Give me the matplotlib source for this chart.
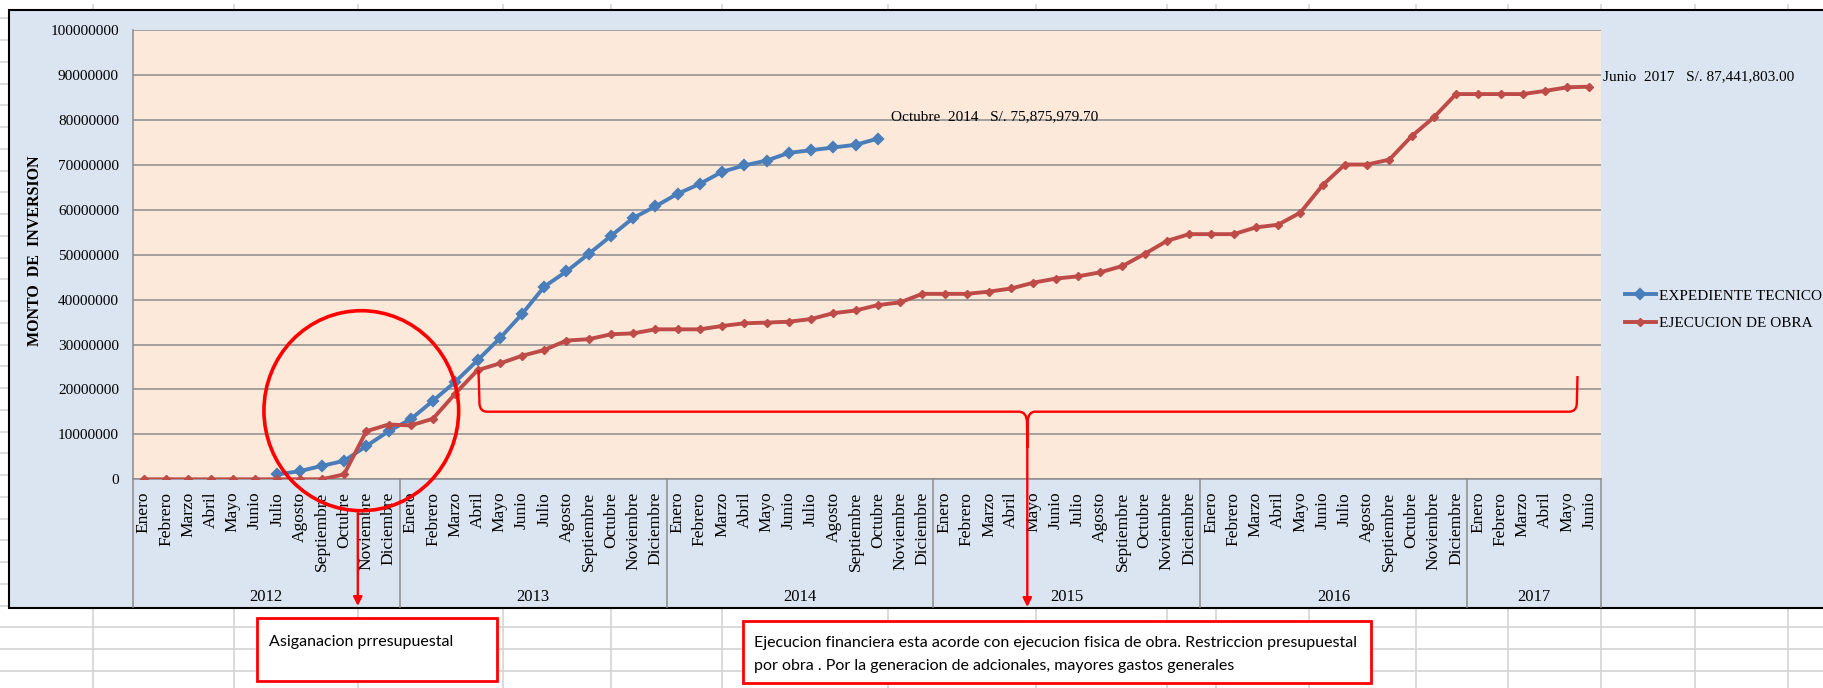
import numpy as np
import matplotlib
matplotlib.use('Agg')
import matplotlib.pyplot as plt
from matplotlib.lines import Line2D
from matplotlib.patches import Rectangle, Ellipse, PathPatch, FancyArrowPatch
from matplotlib.path import Path
from matplotlib.transforms import blended_transform_factory

meses = ['Enero', 'Febrero', 'Marzo', 'Abril', 'Mayo', 'Junio', 'Julio',
         'Agosto', 'Septiembre', 'Octubre', 'Noviembre', 'Diciembre']
anios = ['2012', '2013', '2014', '2015', '2016', '2017']
meses_por_anio = [12, 12, 12, 12, 12, 6]

# EXPEDIENTE TECNICO: julio 2012 - octubre 2014
inicio_expediente = 6
expediente_tecnico = [
    1100000, 1800000, 3000000, 4100000, 7400000, 10700000,
    13400000, 17500000, 21700000, 26500000, 31400000, 36800000,
    42900000, 46300000, 50200000, 54200000, 58200000, 60800000,
    63600000, 65800000, 68500000, 69900000, 71000000, 72700000,
    73300000, 73900000, 74500000, 75875979.70,
]

# EJECUCION DE OBRA: enero 2012 - junio 2017
ejecucion_obra = [
    0, 0, 0, 0, 0, 0, 0, 0, 0, 1100000, 10700000, 12200000,
    12000000, 13500000, 19100000, 24300000, 25800000, 27500000,
    28800000, 30900000, 31200000, 32300000, 32500000, 33400000,
    33400000, 33400000, 34150000, 34750000, 34900000, 35100000,
    35700000, 37000000, 37600000, 38800000, 39400000, 41300000,
    41300000, 41300000, 41800000, 42500000, 43800000, 44700000,
    45200000, 46100000, 47500000, 50200000, 53100000, 54600000,
    54600000, 54600000, 56100000, 56700000, 59400000, 65500000,
    70100000, 70100000, 71200000, 76400000, 80600000, 85800000,
    85800000, 85800000, 85800000, 86500000, 87300000, 87441803.00,
]

W, H = 1823, 688
SERIF = 'Liberation Serif'
SANS = ['Liberation Sans Narrow', 'Lato', 'DejaVu Sans']
AZUL = '#4A7EBB'
ROJO = '#BE4B48'


def fx(x):
    return x / W


def fy(y):
    return 1 - y / H


etiquetas_x = []
for n in meses_por_anio:
    etiquetas_x.extend(meses[:n])
x = np.arange(len(etiquetas_x))

serie_expediente = np.full(len(x), np.nan)
serie_expediente[inicio_expediente:inicio_expediente + len(expediente_tecnico)] = expediente_tecnico
serie_obra = np.array(ejecucion_obra, dtype=float)

fig = plt.figure(figsize=(W / 100, H / 100), dpi=100, facecolor='white')

# cuadricula de la hoja de calculo
columnas = [93, 234, 358, 503, 611, 722, 888, 1036, 1167, 1216, 1309,
            1416, 1508, 1601, 1695, 1788]
for cx in columnas:
    fig.add_artist(Line2D([fx(cx), fx(cx)], [fy(5), fy(H)],
                          transform=fig.transFigure, color='#D4D4D4',
                          lw=1.2, zorder=-3))
for k in range(-3, 30):
    ry = 627.3 - 21.75 * k
    if ry < 12 or ry > H:
        continue
    fig.add_artist(Line2D([0, 1], [fy(ry), fy(ry)],
                          transform=fig.transFigure, color='#D4D4D4',
                          lw=1.2, zorder=-3))

# marco del grafico
fig.add_artist(Rectangle((fx(9), fy(608)), fx(1840) - fx(9), fy(10) - fy(608),
                         transform=fig.transFigure, facecolor='#DBE5F1',
                         edgecolor='black', lw=1.5, zorder=-2))

ax_left, ax_right, ax_top, ax_bottom = 132.8, 1600.6, 30.3, 479.3
ax = fig.add_axes([fx(ax_left), fy(ax_bottom),
                   (ax_right - ax_left) / W, (ax_bottom - ax_top) / H])
ax.set_facecolor('#FCE9DA')

ax.plot(x, serie_expediente, color=AZUL, lw=2.8, marker='D', ms=5,
        mew=1.6, mec=AZUL, mfc=AZUL, label='EXPEDIENTE TECNICO', zorder=3)
ax.plot(x, serie_obra, color=ROJO, lw=2.8, marker='D', ms=4,
        mew=1, mec=ROJO, mfc=ROJO, label='EJECUCION DE OBRA', zorder=3)

ax.set_xlim(-0.5, len(x) - 0.5)
ax.set_ylim(0, 100000000)
yticks = np.arange(0, 100000001, 10000000)
ax.set_yticks(yticks)
ax.set_yticklabels([str(v) for v in yticks], fontfamily=SERIF, fontsize=11)
ax.tick_params(axis='y', length=0, pad=10)
ax.grid(axis='y', color='#8C8C8C', lw=1.1)
ax.set_axisbelow(True)

ax.set_xticks(x)
ax.set_xticklabels(etiquetas_x, rotation=90, fontfamily=SERIF, fontsize=12.5)
ax.tick_params(axis='x', length=0, pad=9)

for lado in ['top', 'right']:
    ax.spines[lado].set_visible(False)
for lado in ['left', 'bottom']:
    ax.spines[lado].set_color('#8C8C8C')
    ax.spines[lado].set_linewidth(1.1)

# segundo nivel del eje de categorias: anios
trans_x = blended_transform_factory(ax.transData, fig.transFigure)
limites = np.concatenate([[0], np.cumsum(meses_por_anio)]) - 0.5
for b in limites:
    ax.add_line(Line2D([b, b], [fy(ax_bottom), fy(607)], transform=trans_x,
                       color='#8C8C8C', lw=1.1, clip_on=False))
for i, anio in enumerate(anios):
    centro = (limites[i] + limites[i + 1]) / 2
    ax.text(centro, fy(597), anio, transform=trans_x, ha='center',
            va='center', fontfamily=SERIF, fontsize=12)

fig.text(fx(35), fy(251), 'MONTO  DE  INVERSION', rotation=90, ha='center',
         va='center', fontfamily=SERIF, fontsize=11.5, fontweight='bold')

ax.legend(loc='center left', bbox_to_anchor=(fx(1625), fy(309.5)),
          bbox_transform=fig.transFigure, frameon=False, borderpad=0,
          borderaxespad=0, handlelength=2.0, handletextpad=0.25,
          labelspacing=0.9, prop={'family': SERIF, 'size': 11})

# montos finales de cada serie
fin_exp = inicio_expediente + len(expediente_tecnico) - 1
ax.annotate(f'Octubre  2014   S/. {expediente_tecnico[-1]:,.2f}',
            xy=(fin_exp, expediente_tecnico[-1]), xytext=(9.4, 15.8),
            textcoords='offset points', ha='left', va='center',
            fontfamily=SERIF, fontsize=11, annotation_clip=False)
ax.annotate(f'Junio  2017   S/. {ejecucion_obra[-1]:,.2f}',
            xy=(len(x) - 1, ejecucion_obra[-1]), xytext=(9.7, 7.2),
            textcoords='offset points', ha='left', va='center',
            fontfamily=SERIF, fontsize=11, annotation_clip=False)

# anotaciones en rojo
fig.add_artist(Ellipse((fx(361.3), fy(410.7)), 194.7 / W, 200 / H,
                       transform=fig.transFigure, fill=False,
                       edgecolor='red', lw=2.6, zorder=5))

puntos = [(478.5, 370), (479.5, 404), (480.2, 411.7), (487, 411.7),
          (1019, 411.7), (1026.5, 411.7), (1027, 422), (1027.3, 448),
          (1027.6, 422), (1028.1, 411.7), (1035, 411.7),
          (1569, 411.7), (1576.3, 411.7), (1576.8, 404), (1577.5, 376)]
codigos = [Path.MOVETO, Path.LINETO, Path.CURVE3, Path.CURVE3,
           Path.LINETO, Path.CURVE3, Path.CURVE3, Path.LINETO,
           Path.LINETO, Path.CURVE3, Path.CURVE3,
           Path.LINETO, Path.CURVE3, Path.CURVE3, Path.LINETO]
llave = Path([(fx(px), fy(py)) for px, py in puntos], codigos)
fig.add_artist(PathPatch(llave, transform=fig.transFigure, fill=False,
                         edgecolor='red', lw=1.7, zorder=5))

for x0, y0, y1 in [(357.8, 513, 606), (1027.3, 448, 607)]:
    fig.add_artist(FancyArrowPatch((fx(x0), fy(y0)), (fx(x0), fy(y1)),
                                   transform=fig.transFigure,
                                   arrowstyle='-|>', mutation_scale=13,
                                   color='red', lw=1.7, shrinkA=0,
                                   shrinkB=0, zorder=5))

cajas = [
    ((257, 618, 497, 681), [(268.7, 641.7, 'Asiganacion prresupuestal')]),
    ((743, 621, 1371, 683),
     [(754.5, 643, 'Ejecucion financiera esta acorde con ejecucion fisica '
                   'de obra. Restriccion presupuestal'),
      (754.5, 666, 'por obra . Por la generacion de adcionales, mayores '
                   'gastos generales')]),
]
for (x0, y0, x1, y1), lineas in cajas:
    fig.add_artist(Rectangle((fx(x0), fy(y1)), fx(x1) - fx(x0),
                             fy(y0) - fy(y1), transform=fig.transFigure,
                             facecolor='white', edgecolor='red', lw=2.0,
                             zorder=4))
    for tx, ty, texto in lineas:
        fig.text(fx(tx), fy(ty), texto, ha='left', va='center',
                 family=SANS, fontsize=11.5, zorder=6)

fig.savefig('out.png', dpi=100, facecolor='white')
